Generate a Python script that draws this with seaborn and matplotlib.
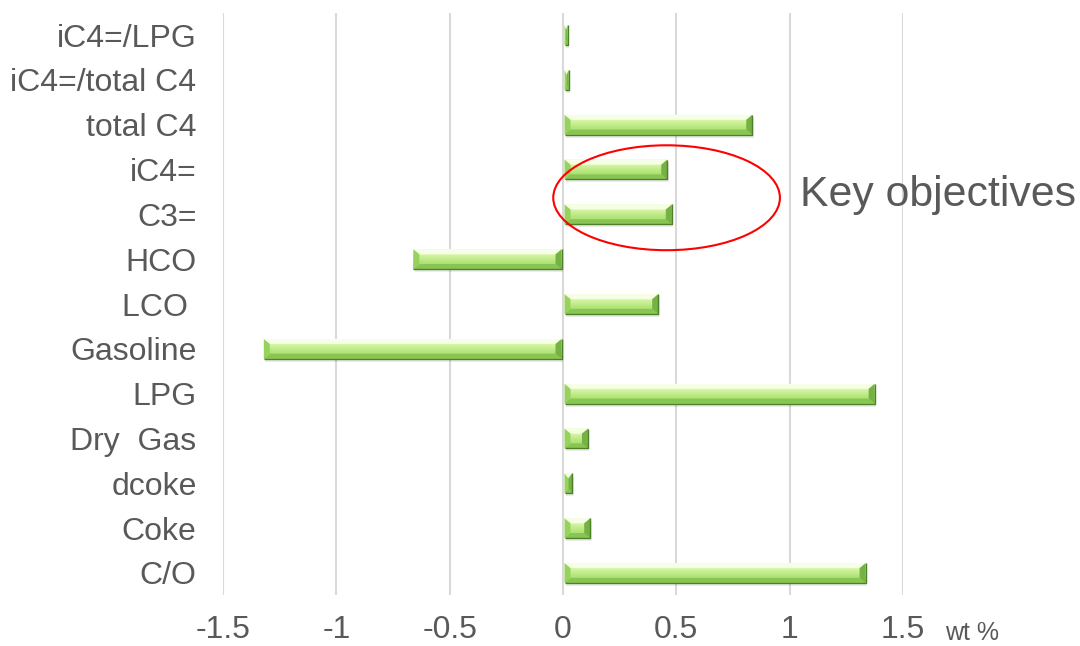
import matplotlib
matplotlib.use("Agg")
import matplotlib.pyplot as plt
import matplotlib.patches as mpatches
import numpy as np
import pandas as pd
import seaborn as sns

# Yield shifts (wt %), listed top to bottom
categories = ["iC4=/LPG", "iC4=/total C4", "total C4", "iC4=", "C3=", "HCO",
              "LCO ", "Gasoline", "LPG", "Dry  Gas", "dcoke", "Coke", "C/O"]
values = [0.02, 0.025, 0.835, 0.46, 0.48, -0.66, 0.42, -1.32, 1.375, 0.11, 0.04, 0.12, 1.335]
x_ticks = [-1.5, -1, -0.5, 0, 0.5, 1, 1.5]
x_tick_labels = ["-1.5", "-1", "-0.5", "0", "0.5", "1", "1.5"]
unit_label = "wt %"
callout_text = "Key objectives"

df = pd.DataFrame({"category": categories, "value": values})

sns.set_theme(style="white")
plt.rcParams["font.family"] = ["Liberation Sans", "DejaVu Sans"]

TEXT = "#595959"
GRID = "#D9D9D9"

fig = plt.figure(figsize=(10.8, 6.46), dpi=100)
ax = fig.add_axes([223 / 1080, 50.6 / 646, 680 / 1080, 582.8 / 646])

sns.barplot(data=df, x="value", y="category", order=categories, orient="h",
            color="#A9DE6E", width=0.44, ax=ax, zorder=3, linewidth=0)

ax.set_xlim(-1.5, 1.5)
ax.set_ylim(len(categories) - 0.5, -0.5)
ax.set_xticks(x_ticks)
ax.set_xticklabels(x_tick_labels)
ax.set_xlabel("")
ax.set_ylabel("")
for s in ax.spines.values():
    s.set_visible(False)
ax.grid(axis="x", color=GRID, linewidth=1.5, zorder=0)
ax.grid(axis="y", visible=False)
ax.tick_params(axis="x", length=0, pad=14, labelsize=23, labelcolor=TEXT)
ax.tick_params(axis="y", length=0, pad=19, labelsize=23, labelcolor=TEXT)

# Bevelled look for each bar, built from the bar geometry seaborn produced
fig.canvas.draw()
ppx = ax.get_window_extent().width / 3.0  # pixels per x unit
ppy = ax.get_window_extent().height / len(categories)  # pixels per category
bx_full = 6 / ppx
by = 5 / ppy
cmap = matplotlib.colors.LinearSegmentedColormap.from_list(
    "face", ["#F2FFDC", "#D0F39C", "#B2E47A", "#9FD765"])
grad = np.linspace(0, 1, 64).reshape(-1, 1)
for p in list(ax.patches):
    x0, y0 = p.get_x(), p.get_y()
    w, h = p.get_width(), p.get_height()
    xl, xr = (x0, x0 + w) if w >= 0 else (x0 + w, x0)
    xl += 1.5 / ppx if xl >= 0 else 0
    xr -= 1.5 / ppx if xr <= 0 else 0
    yt, yb = min(y0, y0 + h), max(y0, y0 + h)  # yt is visually the top (inverted axis)
    bx = min(bx_full, (xr - xl) / 2)
    p.set_visible(False)
    # soft shadow
    ax.add_patch(mpatches.Rectangle((xl + 1.5 / ppx, yt + 3 / ppy), xr - xl, yb - yt,
                                    facecolor="#000000", alpha=0.08, lw=0, zorder=2.5))
    # face gradient
    ax.imshow(grad, cmap=cmap, aspect="auto", extent=(xl, xr, yb, yt),
              zorder=3, interpolation="bilinear")
    # bevel faces
    faces = [
        ([(xl, yt), (xr, yt), (xr - bx, yt + by), (xl + bx, yt + by)], "#F6FFE6"),
        ([(xl, yb), (xr, yb), (xr - bx, yb - by), (xl + bx, yb - by)], "#88C552"),
        ([(xl, yt), (xl + bx, yt + by), (xl + bx, yb - by), (xl, yb)], "#98D25E"),
        ([(xr, yt), (xr - bx, yt + by), (xr - bx, yb - by), (xr, yb)], "#76B243"),
    ]
    for pts, c in faces:
        ax.add_patch(mpatches.Polygon(pts, closed=True, facecolor=c, lw=0, zorder=3.2))
    ax.plot([xl, xr, xr], [yb, yb, yt], color="#4C8029", lw=1.0, zorder=3.4,
            solid_capstyle="butt")
ax.set_xlim(-1.5, 1.5)
ax.set_ylim(len(categories) - 0.5, -0.5)

# Callout around the propylene / isobutylene bars
ax.add_patch(mpatches.Ellipse((0.457, 3.63), 1.0, 2.34, fill=False,
                              edgecolor="#FF0000", lw=1.5, zorder=5, clip_on=False))
fig.text(800 / 1080, 1 - 195 / 646, callout_text, fontsize=30.8, color=TEXT,
         ha="left", va="center")
fig.text(945 / 1080, 1 - 640 / 646, unit_label, fontsize=18, color=TEXT,
         ha="left", va="baseline")

fig.savefig("out.png", dpi=100)
